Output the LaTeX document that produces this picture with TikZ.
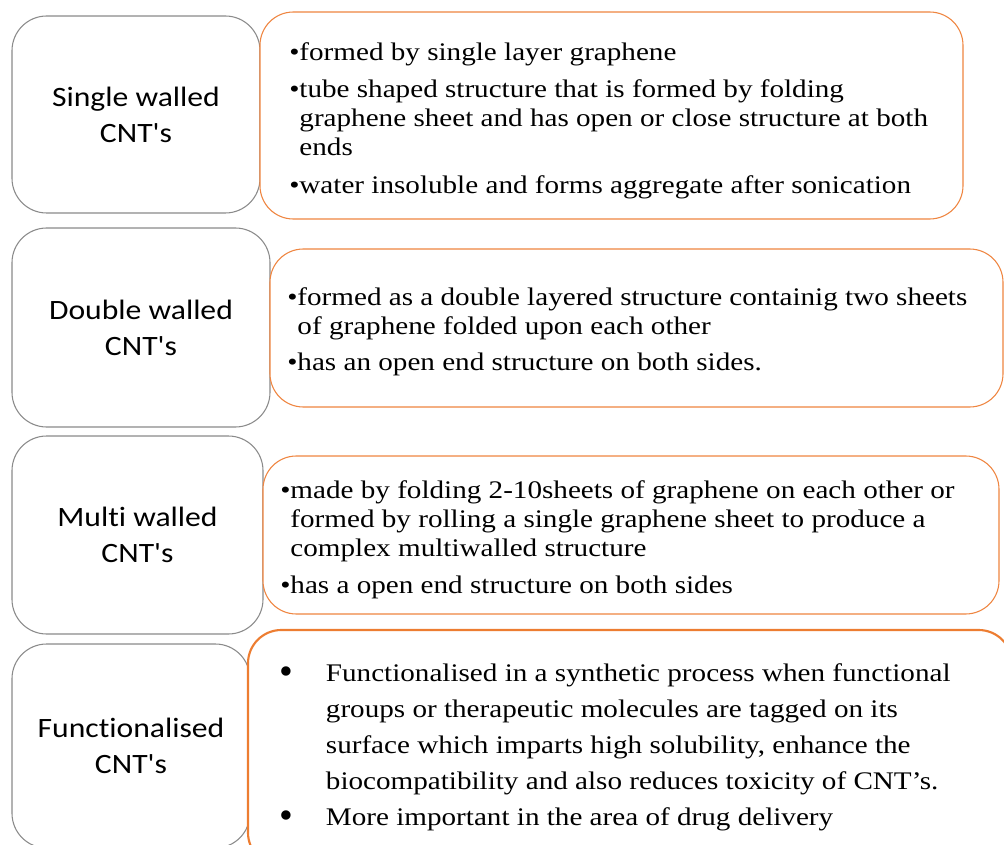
\documentclass[tikz,border=0pt]{standalone}
\usepackage{graphicx}
\usepackage{fontspec}
\setmainfont{Liberation Serif}[FakeStretch=1.15]
\newfontfamily\catfont{Carlito}[FakeStretch=1.13,Ligatures=NoCommon]
\usetikzlibrary{fit}

\definecolor{catgray}{HTML}{8A8A8A}
\definecolor{descorange}{HTML}{EF8540}
\definecolor{boldorange}{HTML}{ED7D31}

\newlength{\bulw}
\newcommand{\blt}{•}
\newcommand{\cnt}{\phantom{•}}
\newcommand{\bigblt}{\makebox[\bulw][l]{\raisebox{-2.6pt}{\scalebox{1.35}[1.55]{•}}}}
\newcommand{\bigcnt}{\hspace*{\bulw}}

\begin{document}
\begin{tikzpicture}[
  x=0.75pt, y=-0.75pt,
  cat/.style={draw=catgray,line width=0.8pt,rounded corners=26pt,fill=white,inner sep=0pt},
  catlbl/.style={align=center,inner sep=0pt,font=\catfont\fontsize{21}{27}\selectfont},
  desc/.style={draw=descorange,line width=0.8pt,rounded corners=25pt,fill=white,inner sep=0pt},
  txt/.style={anchor=north west,inner sep=0pt,align=left,font=\fontsize{19}{21.75}\selectfont},
  bigtxt/.style={txt,font=\fontsize{19}{27}\selectfont},
]

% ---- page size (pixels) ----
\useasboundingbox (0,0) rectangle (1004,845);
\clip (0,0) rectangle (1004,845);

% ========================= left column: CNT types =========================
\foreach \i/\top/\bot/\rt/\lbl in {%
    1/16/213/260/{Single walled\\CNT's},
    2/228/427/270/{Double walled\\CNT's},
    3/436/634/263/{Multi walled\\CNT's},
    4/644/848/250/{Functionalised\\CNT's}}{%
  \node[cat,fit={(12,\top) (\rt,\bot)}] (cat\i) {};%
  \node[catlbl] (lbl\i) at (cat\i.center) {\lbl};%
}

% ========================= right column: descriptions =========================
\node[desc,fit={(260,12) (963,219)}] (desc1) {};
\node[desc,fit={(270,249) (1003,407)}] (desc2) {};
\node[desc,fit={(263,456) (999,614)}] (desc3) {};
\node[desc,draw=boldorange,line width=1.6pt,fit={(248,630) (1012,866)}] (desc4) {};

\node[txt] (txt1) at (289,42) {%
  \blt formed by single layer graphene\\[6.5pt]
  \blt tube shaped structure that is formed by folding\\
  \cnt graphene sheet and has open or close structure at both\\
  \cnt ends\\[6.5pt]
  \blt water insoluble and forms aggregate after sonication};

\node[txt] (txt2) at (287,287) {%
  \blt formed as a double layered structure containig two sheets\\
  \cnt of graphene folded upon each other\\[5.5pt]
  \blt has an open end structure on both sides.};

\node[txt] (txt3) at (280,480) {%
  \blt made by folding 2-10sheets of graphene on each other or\\
  \cnt formed by rolling a single graphene sheet to produce a\\
  \cnt complex multiwalled structure\\[6.5pt]
  \blt has a open end structure on both sides};

\setlength{\bulw}{35pt}
\node[bigtxt] (txt4) at (279,663) {%
  \bigblt Functionalised in a synthetic process when functional\\
  \bigcnt groups or therapeutic molecules are tagged on its\\
  \bigcnt surface which imparts high solubility, enhance the\\
  \bigcnt biocompatibility and also reduces toxicity of CNT’s.\\
  \bigblt More important in the area of drug delivery};

\end{tikzpicture}
\end{document}
